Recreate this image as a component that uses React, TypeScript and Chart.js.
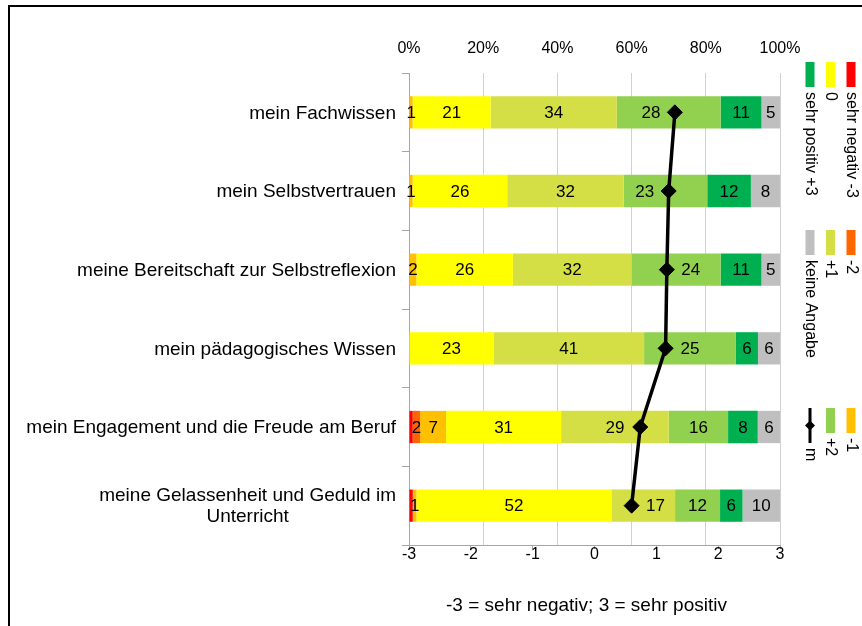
import React, { useEffect, useRef } from 'react';
import { Chart, registerables } from 'chart.js';

Chart.register(...registerables);

const FONT = '"Liberation Sans", Arial, Helvetica, sans-serif';

// ---- data ----
const categories: string[][] = [
  ['mein Fachwissen'],
  ['mein Selbstvertrauen'],
  ['meine Bereitschaft zur Selbstreflexion'],
  ['mein pädagogisches Wissen'],
  ['mein Engagement und die Freude am Beruf'],
  ['meine Gelassenheit und Geduld im', 'Unterricht'],
];

const seriesNames = ['sehr negativ -3', '-2', '-1', '0', '+1', '+2', 'sehr positiv +3', 'keine Angabe'];
const seriesColors = ['#FF0000', '#FF6600', '#FFC000', '#FFFF00', '#D4DF46', '#92D050', '#00B050', '#BFBFBF'];

const neg3 = [0, 0, 0, 0, 1, 1];
const neg2 = [0, 0, 0, 0, 2, 0];
const neg1 = [1, 1, 2, 0, 7, 1];
const zero = [21, 26, 26, 23, 31, 52];
const pos1 = [34, 32, 32, 41, 29, 17];
const pos2 = [28, 23, 24, 25, 16, 12];
const pos3 = [11, 12, 11, 6, 8, 6];
const keineAngabe = [5, 8, 5, 6, 6, 10];
const showValueLabels = [false, true, true, true, true, true, true, true];

const meanName = 'm';
const meanValues = [1.3, 1.2, 1.17, 1.15, 0.74, 0.6];

const percentTicks = [0, 20, 40, 60, 80, 100];
const scaleTicks = [-3, -2, -1, 0, 1, 2, 3];
const bottomTitle = '-3 = sehr negativ; 3 = sehr positiv';

const seriesValues = [neg3, neg2, neg1, zero, pos1, pos2, pos3, keineAngabe];

// legend layout: [column, row] for each series, then the mean line
const legendSlots: [number, number][] = [
  [0, 0], [0, 1], [0, 2],
  [1, 0], [1, 1], [1, 2],
  [2, 0], [2, 1], [2, 2],
];
const legendColX = [851, 830.5, 810];
const legendRowY = [62, 230, 408];

const MARKER_R = 7.5;

export default function App() {
  const canvasRef = useRef<HTMLCanvasElement | null>(null);

  useEffect(() => {
    const canvas = canvasRef.current;
    if (!canvas) return;

    const rowSums = categories.map((_, r) => seriesValues.reduce((s, arr) => s + arr[r], 0));

    const barDatasets: any[] = seriesValues.map((vals, i) => ({
      type: 'bar',
      label: seriesNames[i],
      data: vals.map((v, r) => (v / rowSums[r]) * 100),
      rawValues: vals,
      showValues: showValueLabels[i],
      backgroundColor: seriesColors[i],
      borderWidth: 0,
      xAxisID: 'x',
      yAxisID: 'y',
      barPercentage: 0.41,
      categoryPercentage: 1,
      order: 0,
    }));

    const lineIndex = barDatasets.length;
    const lineDataset: any = {
      type: 'line',
      label: meanName,
      data: meanValues,
      indexAxis: 'y',
      xAxisID: 'x2',
      yAxisID: 'y',
      borderColor: '#000',
      borderWidth: 3.5,
      pointStyle: 'rectRot',
      pointRadius: MARKER_R,
      pointBackgroundColor: '#000',
      pointBorderColor: '#000',
      pointBorderWidth: 1,
      tension: 0,
      fill: false,
      order: -1,
    };

    const overlay = {
      id: 'overlay',
      beforeDatasetDraw(chart: any, args: any) {
        if (args.index !== lineIndex) return;
        const ctx = chart.ctx;
        const lineMeta = chart.getDatasetMeta(lineIndex);
        ctx.save();
        ctx.font = `17px ${FONT}`;
        ctx.fillStyle = '#000';
        ctx.textAlign = 'center';
        ctx.textBaseline = 'middle';
        chart.data.datasets.forEach((ds: any, di: number) => {
          if (ds.type === 'line' || !ds.showValues) return;
          const meta = chart.getDatasetMeta(di);
          meta.data.forEach((el: any, i: number) => {
            const v = ds.rawValues[i];
            if (!v) return;
            const p = el.getProps(['x', 'base', 'y'], true);
            const text = String(v);
            const w = ctx.measureText(text).width;
            const segCenter = (p.x + p.base) / 2;
            let cx = segCenter;
            const marker = lineMeta.data[i];
            if (marker) {
              const mx = marker.x;
              const gap = 7;
              if (Math.abs(cx - mx) < w / 2 + MARKER_R + gap && mx >= Math.min(p.x, p.base) && mx <= Math.max(p.x, p.base)) {
                if (mx > segCenter) cx = mx - MARKER_R - gap - w / 2;
                else cx = mx + MARKER_R + gap + w / 2;
              }
            }
            ctx.fillText(text, cx, p.y + 1);
          });
        });
        ctx.restore();
      },
      afterDraw(chart: any) {
        const ctx = chart.ctx;
        const yScale = chart.scales.y;
        const area = chart.chartArea;
        ctx.save();
        // category labels (multi-line blocks, right edge next to axis, lines centred)
        ctx.font = `19px ${FONT}`;
        ctx.fillStyle = '#000';
        ctx.textBaseline = 'middle';
        ctx.textAlign = 'center';
        const lh = 21;
        const rightEdge = area.left - 13;
        categories.forEach((lines, i) => {
          const cy = yScale.getPixelForValue(i);
          const w = Math.max(...lines.map((l) => ctx.measureText(l).width));
          const cx = rightEdge - w / 2;
          const y0 = cy - ((lines.length - 1) * lh) / 2 + 1;
          lines.forEach((l, k) => ctx.fillText(l, cx, y0 + k * lh));
        });

        // bottom title
        ctx.font = `19px ${FONT}`;
        ctx.fillText(bottomTitle, (area.left + area.right) / 2 - 8, 606);

        // legend (rotated)
        chart.data.datasets.forEach((ds: any, di: number) => {
          const [c, r] = legendSlots[di];
          const cx = legendColX[c];
          const top = legendRowY[r];
          let textStart = top + 30;
          if (ds.type === 'line') {
            ctx.strokeStyle = '#000';
            ctx.lineWidth = 3;
            ctx.beginPath();
            ctx.moveTo(cx, top);
            ctx.lineTo(cx, top + 35);
            ctx.stroke();
            ctx.fillStyle = '#000';
            ctx.beginPath();
            ctx.moveTo(cx - 5, top + 17.5);
            ctx.lineTo(cx, top + 12.5);
            ctx.lineTo(cx + 5, top + 17.5);
            ctx.lineTo(cx, top + 22.5);
            ctx.closePath();
            ctx.fill();
            textStart = top + 40;
          } else {
            ctx.fillStyle = ds.backgroundColor;
            ctx.fillRect(cx - 4.5, top, 9, 25);
          }
          ctx.save();
          ctx.translate(cx, textStart);
          ctx.rotate(Math.PI / 2);
          ctx.fillStyle = '#000';
          ctx.font = `16px ${FONT}`;
          ctx.textAlign = 'left';
          ctx.textBaseline = 'middle';
          ctx.fillText(ds.label, 0, 0);
          ctx.restore();
        });
        ctx.restore();
      },
    };

    const chart = new Chart(canvas, {
      type: 'bar',
      data: {
        labels: categories.map((c) => c.join(' ')),
        datasets: [...barDatasets, lineDataset],
      },
      options: {
        indexAxis: 'y',
        animation: false,
        responsive: false,
        maintainAspectRatio: false,
        layout: { padding: { left: 0, right: 82, top: 0, bottom: 0 } },
        plugins: {
          legend: { display: false },
          tooltip: { enabled: false },
          title: { display: false },
        },
        scales: {
          x: {
            type: 'linear',
            position: 'top',
            stacked: true,
            min: 0,
            max: 100,
            afterBuildTicks: (s: any) => {
              s.ticks = percentTicks.map((v) => ({ value: v }));
            },
            afterFit: (s: any) => {
              s.height = 73;
            },
            ticks: {
              callback: (v: any) => `${v}%`,
              font: { size: 16, family: FONT },
              color: '#000',
              padding: 15,
            },
            grid: { color: '#D0D0D0', drawTicks: false, lineWidth: 1 },
            border: { display: false },
          },
          x2: {
            type: 'linear',
            position: 'bottom',
            min: -3,
            max: 3,
            afterBuildTicks: (s: any) => {
              s.ticks = scaleTicks.map((v) => ({ value: v }));
            },
            afterFit: (s: any) => {
              s.height = 626 - 545;
            },
            ticks: {
              font: { size: 16, family: FONT },
              color: '#000',
              padding: -4,
              callback: (v: any) => String(v),
            },
            grid: { drawOnChartArea: false, drawTicks: true, tickLength: 4, color: '#A6A6A6' },
            border: { color: '#A6A6A6', width: 1 },
          },
          y: {
            type: 'category',
            position: 'left',
            stacked: true,
            afterFit: (s: any) => {
              s.width = 409;
            },
            ticks: { display: false },
            grid: { drawOnChartArea: false, drawTicks: true, tickLength: 7, color: '#A6A6A6', offset: true },
            border: { color: '#A6A6A6', width: 1 },
          },
        },
      } as any,
      plugins: [overlay],
    });

    return () => {
      chart.destroy();
    };
  }, []);

  return (
    <div
      style={{
        position: 'fixed',
        left: 0,
        top: 0,
        width: 862,
        height: 626,
        overflow: 'hidden',
        background: '#fff',
      }}
    >
      <div
        style={{
          position: 'absolute',
          left: 8,
          top: 5,
          width: 1000,
          height: 1000,
          border: '2px solid #000',
        }}
      />
      <canvas
        ref={canvasRef}
        width={862}
        height={626}
        style={{ position: 'absolute', left: 0, top: 0, width: 862, height: 626 }}
      />
    </div>
  );
}
